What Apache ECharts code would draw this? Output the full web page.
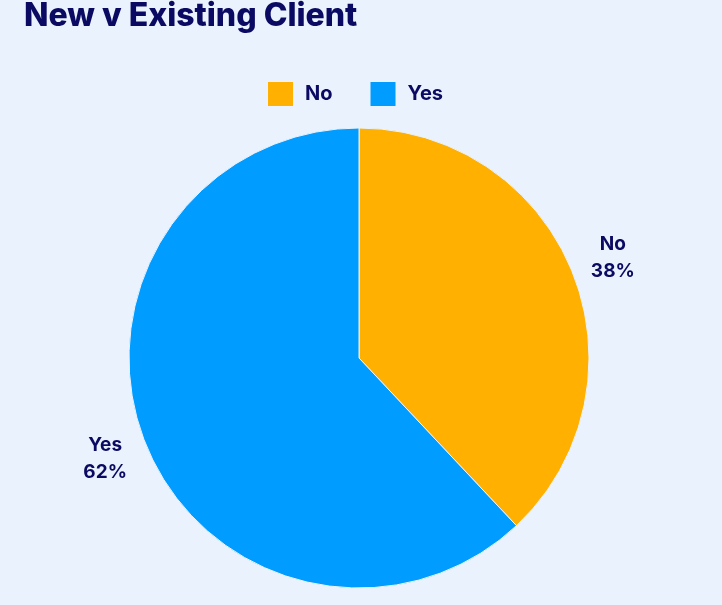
<!DOCTYPE html>
<html>
<head>
<meta charset="utf-8">
<style>
  html, body { margin: 0; padding: 0; background: #EAF3FD; }
  #chart { width: 722px; height: 605px; }
</style>
<script src="https://cdn.jsdelivr.net/npm/echarts@6/dist/echarts.min.js"></script>
</head>
<body>
<div id="chart"></div>
<script>
// Share of clients who are new vs. existing
const categories = ['No', 'Yes'];
const shares = [38, 62];
const sliceColors = ['#FFB000', '#009CFF'];

const navy = '#0B0A63';
const fontFamily = 'Inter, "Open Sans", sans-serif';

const pieData = categories.map((name, i) => ({
  name: name,
  value: shares[i],
  itemStyle: { color: sliceColors[i] }
}));

const chart = echarts.init(document.getElementById('chart'), null, { renderer: 'canvas' });

chart.setOption({
  backgroundColor: '#EAF3FD',
  animation: false,
  title: {
    text: 'New v Existing Client',
    left: 19,
    top: -5,
    textStyle: { color: navy, fontSize: 32, fontWeight: 800, fontFamily: fontFamily }
  },
  legend: {
    data: categories,
    top: 75,
    left: 261,
    icon: 'rect',
    itemWidth: 27,
    itemHeight: 26,
    itemGap: 36,
    textStyle: {
      color: navy, fontSize: 20, fontWeight: 'bold', fontFamily: fontFamily,
      padding: [0, 0, 0, 6]
    }
  },
  series: [
    {
      type: 'pie',
      center: [359, 358],
      radius: [0, 230],
      startAngle: 90,
      clockwise: true,
      silent: true,
      label: { show: false },
      labelLine: { show: false },
      itemStyle: { borderColor: '#EAF3FD', borderWidth: 1 },
      data: pieData
    },
    {
      // transparent ring that carries the slice labels just outside the pie
      type: 'pie',
      center: [359, 358],
      radius: [230, 310],
      startAngle: 90,
      clockwise: true,
      silent: true,
      legendHoverLink: false,
      itemStyle: { color: 'rgba(0,0,0,0)' },
      label: {
        show: true,
        position: 'inside',
        formatter: p => '{a|' + p.name + '}\n{a|' + p.value + '%}',
        rich: {
          a: {
            color: navy, fontSize: 19, fontWeight: 'bold', fontFamily: fontFamily,
            lineHeight: 27, align: 'center'
          }
        }
      },
      labelLine: { show: false },
      data: categories.map((name, i) => ({ name: name, value: shares[i] }))
    }
  ]
});
</script>
</body>
</html>
